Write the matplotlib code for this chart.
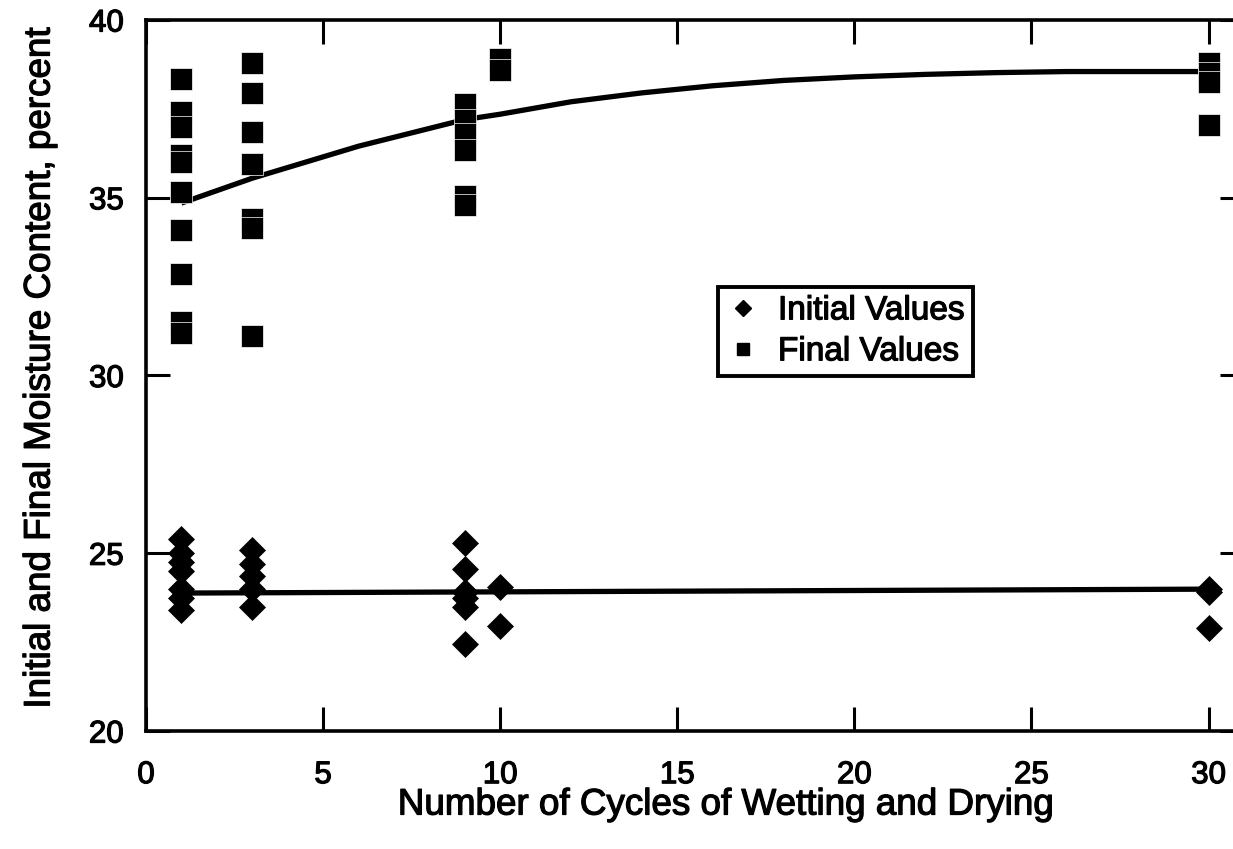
import matplotlib
matplotlib.use("Agg")
import matplotlib.pyplot as plt
import matplotlib.patheffects as pe
from matplotlib.lines import Line2D

plt.rcParams['font.family'] = ['Liberation Sans', 'DejaVu Sans']

# Measured moisture contents (percent) by number of wetting/drying cycles
final_cycles = [1] * 10 + [3] * 7 + [9] * 6 + [10] * 2 + [30] * 4
final_values = [38.35, 37.4, 37.0, 36.2, 36.0, 35.15, 34.1, 32.85, 31.5, 31.2,
                38.8, 37.95, 36.85, 35.95, 34.4, 34.15, 31.1,
                37.65, 37.2, 36.8, 36.35, 35.05, 34.8,
                38.9, 38.6,
                38.8, 38.5, 38.25, 37.05]

initial_cycles = [1] * 7 + [3] * 5 + [9] * 6 + [10] * 2 + [30] * 3
initial_values = [25.4, 25.0, 24.75, 24.5, 24.0, 23.75, 23.4,
                  25.1, 24.7, 24.35, 24.0, 23.5,
                  25.3, 24.55, 23.9, 23.75, 23.5, 22.45,
                  24.05, 22.95,
                  24.0, 23.9, 22.9]

# Trend curves
final_trend_x = [1, 2, 3, 4, 5, 6, 7, 8, 9, 10, 12, 14, 16, 18, 20, 22, 24, 26, 28, 30]
final_trend_y = [34.85, 35.2, 35.55, 35.85, 36.15, 36.45, 36.7, 36.95, 37.2, 37.35,
                 37.7, 37.95, 38.15, 38.3, 38.4, 38.47, 38.52, 38.55, 38.55, 38.55]
initial_trend_x = [1, 30]
initial_trend_y = [23.88, 23.99]

x_ticks = [0, 5, 10, 15, 20, 25, 30]
y_ticks = [20, 25, 30, 35, 40]

# slightly heavier strokes for all text
heavy = [pe.withStroke(linewidth=0.9, foreground='black')]

W, H = 1233, 849
fig = plt.figure(figsize=(W / 100, H / 100), dpi=100)
ax = fig.add_axes([146 / W, 118 / H, 1098 / W, 711 / H])
ax.set_xlim(0, 31)
ax.set_ylim(20, 40)

ax.plot(final_trend_x, final_trend_y, color='black', lw=3.8, solid_capstyle='butt', zorder=2)
ax.plot(initial_trend_x, initial_trend_y, color='black', lw=3.8, solid_capstyle='butt', zorder=2)

ax.plot(final_cycles, final_values, ls='none', marker='s', ms=16.5,
        mfc='black', mec='white', mew=0.5, zorder=3)
ax.plot(initial_cycles, initial_values, ls='none', marker='D', ms=13.5,
        mfc='black', mec='black', mew=0.5, zorder=3)

for s in ax.spines.values():
    s.set_linewidth(2.6)

ax.set_xticks(x_ticks)
ax.set_yticks(y_ticks)
ax.set_xticklabels([str(v) for v in x_ticks])
ax.set_yticklabels([str(v) for v in y_ticks])
ax.tick_params(direction='in', length=17, width=2.2, top=True, right=True,
               labelsize=22.5, colors='black')
ax.tick_params(axis='x', pad=21)
ax.tick_params(axis='y', pad=16)
for lbl in ax.get_xticklabels() + ax.get_yticklabels():
    lbl.set_path_effects(heavy)

fig.text(725 / W, 1 - 805 / H, 'Number of Cycles of Wetting and Drying',
         ha='center', va='center', fontsize=26.5, path_effects=heavy)
fig.text(40 / W, 1 - 369 / H, 'Initial and Final Moisture Content, percent',
         ha='center', va='center', rotation=90, fontsize=26.5, path_effects=heavy)

handles = [Line2D([], [], ls='none', marker='D', ms=8, color='black'),
           Line2D([], [], ls='none', marker='s', ms=9, color='black')]
leg = ax.legend(handles, ['Initial Values', 'Final Values'],
                loc='upper left', bbox_to_anchor=(718 / W, 1 - 287 / H),
                bbox_transform=fig.transFigure, frameon=True,
                prop={'size': 24},
                fancybox=False, framealpha=1, edgecolor='black',
                handlelength=1.0, handletextpad=0.55, labelspacing=0.3,
                borderpad=0.25, borderaxespad=0)
leg.get_frame().set_linewidth(2.8)
for t in leg.get_texts():
    t.set_path_effects(heavy)

fig.savefig('out.png', dpi=100)
